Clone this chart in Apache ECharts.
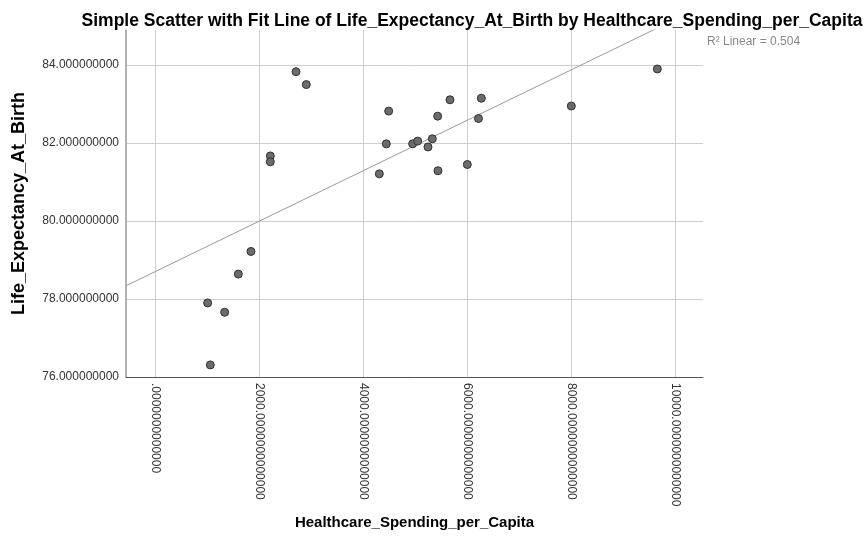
<!DOCTYPE html>
<html>
<head>
<meta charset="utf-8">
<script src="https://cdn.jsdelivr.net/npm/echarts@6/dist/echarts.min.js"></script>
<style>html,body{margin:0;padding:0;background:#fff}#c{width:868px;height:548px}</style>
</head>
<body>
<div id="c"></div>
<script>
const spending = [2712, 2910, 4494, 4448, 2218, 2218, 4314, 9660, 8006, 5673, 6275, 5436, 6221, 4955, 5051, 5333, 5250, 5442, 6006, 1846, 1603, 1013, 1340, 1064];
const lifeExp  = [83.83, 83.50, 82.82, 81.98, 81.67, 81.52, 81.21, 83.90, 82.95, 83.11, 83.15, 82.69, 82.63, 81.98, 82.05, 82.11, 81.90, 81.29, 81.45, 79.22, 78.64, 77.90, 77.66, 76.31];
const xTicks = [0, 2000, 4000, 6000, 8000, 10000];
const yTicks = [76, 78, 80, 82, 84];
const fitIntercept = 78.70;
const fitSlope = 0.000647;
const rSquared = '0.504';
const xMin = -557, xMax = 10538, yMin = 76, yMax = 84.9;

const points = spending.map((x, i) => [x, lifeExp[i]]);
const fitLine = [[xMin, fitIntercept + fitSlope * xMin], [xMax, fitIntercept + fitSlope * xMax]];

const chart = echarts.init(document.getElementById('c'));
const font = 'Liberation Sans, Arial, sans-serif';
chart.setOption({
  animation: false,
  backgroundColor: '#fff',
  title: {
    text: 'Simple Scatter with Fit Line of Life_Expectancy_At_Birth by Healthcare_Spending_per_Capita',
    left: 467, top: 7, textAlign: 'center',
    textStyle: {fontFamily: font, fontSize: 17.5, fontWeight: 'bold', color: '#000'}
  },
  grid: {left: 126, top: 30, right: 165, bottom: 171, containLabel: false},
  xAxis: {
    type: 'value', min: xMin, max: xMax,
    name: 'Healthcare_Spending_per_Capita', nameLocation: 'middle', nameGap: 138,
    nameTextStyle: {fontFamily: font, fontSize: 15, fontWeight: 'bold', color: '#000'},
    axisLine: {show: true, onZero: false, lineStyle: {color: '#555', width: 1}},
    axisTick: {show: false, customValues: xTicks},
    axisLabel: {
      customValues: xTicks, rotate: -90, margin: 6,
      fontFamily: font, fontSize: 12, color: '#333',
      formatter: v => (v === 0 ? '' : String(v)) + '.0000000000000'
    },
    splitLine: {show: true, lineStyle: {color: '#cfcfcf', width: 1}}
  },
  yAxis: {
    type: 'value', min: yMin, max: yMax,
    name: 'Life_Expectancy_At_Birth', nameLocation: 'middle', nameGap: 98,
    nameTextStyle: {fontFamily: font, fontSize: 18, fontWeight: 'bold', color: '#000'},
    axisLine: {show: true, onZero: false, lineStyle: {color: '#999', width: 1.5}},
    axisTick: {show: false, customValues: yTicks},
    axisLabel: {
      customValues: yTicks, margin: 7, fontFamily: font, fontSize: 12, color: '#333',
      formatter: v => Number(v).toFixed(9)
    },
    splitLine: {show: true, lineStyle: {color: '#cfcfcf', width: 1}}
  },
  graphic: [{
    type: 'text', left: 707, top: 36,
    style: {text: 'R\u00b2 Linear = ' + rSquared, fontFamily: font, fontSize: 12, fill: '#888'}
  }],
  series: [
    {
      type: 'line', data: fitLine, symbol: 'none', clip: true,
      lineStyle: {color: '#9a9a9a', width: 1}, z: 2, silent: true
    },
    {
      type: 'scatter', data: points, symbolSize: 8,
      itemStyle: {color: '#6b6b6b', borderColor: '#333', borderWidth: 1, opacity: 1}, z: 3
    }
  ]
});
</script>
</body>
</html>
